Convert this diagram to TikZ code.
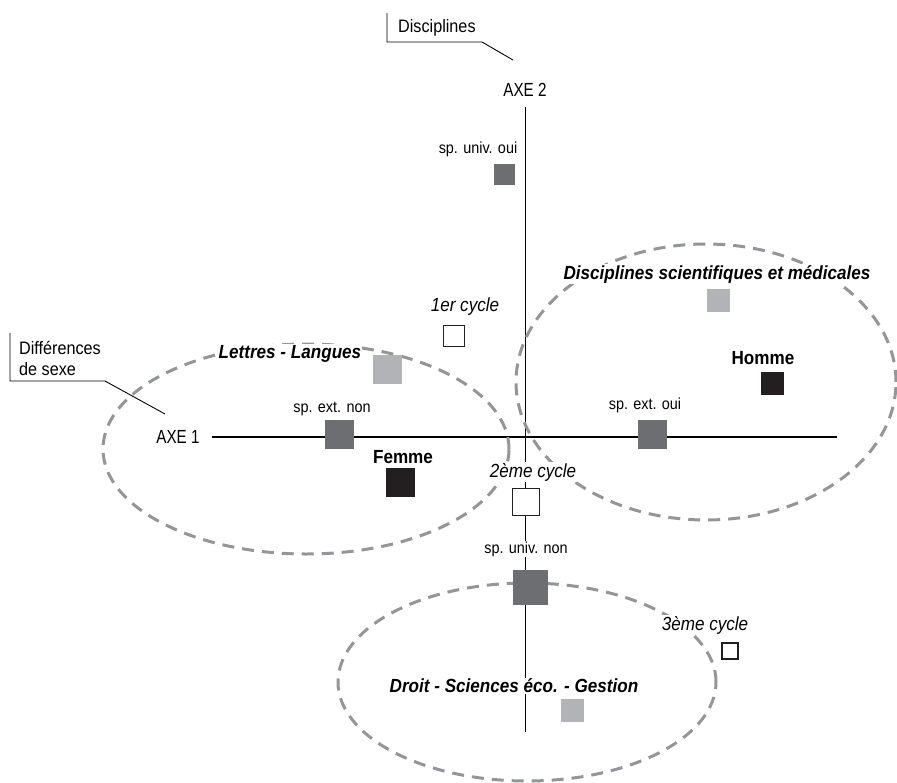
\documentclass[tikz,border=0pt]{standalone}
\usepackage{fontspec}
\setmainfont{Liberation Sans}[FakeStretch=0.9]
\usepackage{xcolor}
\usetikzlibrary{positioning}

\definecolor{sqdark}{HTML}{6D6E71}
\definecolor{sqlight}{HTML}{B1B3B6}
\definecolor{sqblack}{HTML}{231F20}
\definecolor{zonegray}{HTML}{939598}

\begin{document}
\begin{tikzpicture}[
    x=1pt, y=-1pt,
    sq/.style={inner sep=0, minimum size=#1},
    dark/.style={sq=#1, fill=sqdark},
    light/.style={sq=#1, fill=sqlight},
    black/.style={sq=#1, fill=sqblack},
    open/.style={sq=#1, draw=sqblack, line width=1.8pt, fill=white},
    lab/.style={fill=white, inner sep=1pt, font=\fontsize{16}{18}\selectfont},
    cyc/.style={fill=white, inner sep=1pt, font=\fontsize{19}{21}\selectfont\itshape},
    sexe/.style={fill=white, inner sep=1pt, font=\fontsize{19}{21}\selectfont\bfseries},
    zone/.style={fill=white, inner sep=1pt, font=\fontsize{19}{21}\selectfont\bfseries\itshape},
    axe/.style={inner sep=1pt, font=\fontsize{19}{21}\selectfont\addfontfeatures{FakeStretch=0.8}},
    ring/.style={draw=zonegray, line width=3pt, dash pattern=on 12pt off 8pt}
]
\useasboundingbox (0,0) rectangle (897,782);

% Axes
\node[axe] (ax2) at (525, 90) {AXE 2};
\node[axe] (ax1) at (178, 437) {AXE 1};
\coordinate (ax2t) at (525, 107);
\coordinate (ax2b) at (525, 732);
\coordinate (ax1s) at (212, 437);
\coordinate (ax1e) at (837, 437);
\draw[line width=1pt] (ax2t) -- (ax2b);
\draw[line width=1.6pt] (ax1s) -- (ax1e);

% Call-outs
\node[axe, anchor=base west, font=\fontsize{18}{20}\selectfont] (disc) at (397, 32) {Disciplines};
\coordinate (c1a) at (387, 13);
\coordinate (c1b) at (387, 42);
\coordinate (c1c) at (482, 42);
\coordinate (c1d) at (513, 60);
\draw[line width=0.9pt] (c1a) -- (c1b) -- (c1c) -- (c1d);

\node[axe, anchor=west, align=left, font=\fontsize{18}{21}\selectfont] (diff) at (18, 358) {Différences\\de sexe};
\coordinate (c2a) at (10, 333);
\coordinate (c2b) at (10, 381);
\coordinate (c2c) at (105, 381);
\coordinate (c2d) at (165, 414);
\draw[line width=0.9pt] (c2a) -- (c2b) -- (c2c) -- (c2d);

% Zones
\draw[ring] (306, 449) ellipse [x radius=203pt, y radius=105pt];
\draw[ring] (706, 382) ellipse [x radius=190pt, y radius=138pt];
\draw[ring] (527, 682) ellipse [x radius=189pt, y radius=99pt];

% Modalities
\node[dark=21] (univoui) at (504, 174) {};
\node[open=21] (cyc1) at (454, 336) {};
\node[light=29] (lettres) at (387, 369) {};
\node[dark=29] (extnon) at (339, 434) {};
\node[black=29] (femme) at (400, 482) {};
\node[open=27] (cyc2) at (526, 502) {};
\node[dark=35] (univnon) at (530, 587) {};
\node[open=16] (cyc3) at (730, 651) {};
\node[light=23] (droit) at (572, 710) {};
\node[light=23] (sciences) at (718, 300) {};
\node[black=23] (homme) at (772, 383) {};
\node[dark=29] (extoui) at (652, 434) {};

% Labels
\node[lab] (lunivoui) at (478, 149) {sp. univ. oui};
\node[cyc] (lcyc1) at (465, 307) {1er cycle};
\node[zone] (llettres) at (290, 354) {Lettres - Langues};
\node[lab] (lextnon) at (332, 409) {sp. ext. non};
\node[sexe] (lfemme) at (403, 457) {Femme};
\node[cyc] (lcyc2) at (533, 472) {2ème cycle};
\node[lab] (lunivnon) at (526, 549) {sp. univ. non};
\node[cyc] (lcyc3) at (705, 625) {3ème cycle};
\node[zone] (ldroit) at (514, 686) {Droit - Sciences éco. - Gestion};
\node[zone] (lsciences) at (717, 274) {Disciplines scientifiques et médicales};
\node[sexe] (lhomme) at (763, 358) {Homme};
\node[lab] (lextoui) at (645, 405) {sp. ext. oui};

\end{tikzpicture}
\end{document}
